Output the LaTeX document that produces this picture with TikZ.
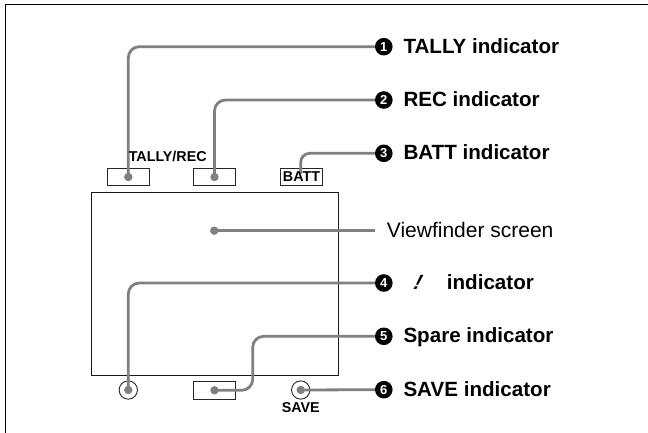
\documentclass[tikz,border=0pt]{standalone}
\usepackage{fontspec}
\setmainfont{Liberation Sans}
\definecolor{leadgray}{RGB}{128,128,128}
\begin{document}
\begin{tikzpicture}[x=1pt,y=-1pt,
  leader/.style={draw=leadgray, line width=2.8pt, rounded corners=11pt},
  dotmark/.style={circle, fill=leadgray, inner sep=0pt, minimum size=8.4pt},
  indbox/.style={draw=black!85, line width=0.9pt, minimum width=42pt, minimum height=17.4pt, inner sep=0pt},
  indcirc/.style={circle, draw=black!85, line width=0.9pt, minimum size=18.3pt, inner sep=0pt},
  numb/.style={circle, fill=black, text=white, inner sep=0pt, minimum size=17.6pt, font=\bfseries\fontsize{13}{13}\selectfont},
  lab/.style={anchor=base west, inner sep=0pt, font=\bfseries\fontsize{20.6}{22}\selectfont},
  small/.style={inner sep=0pt, font=\bfseries\fontsize{14.3}{15}\selectfont}
]
\useasboundingbox (0,0) rectangle (648,433);
% frame corner
\draw[line width=1.5pt] (5.7,433) -- (5.7,4.7) -- (648,4.7);
% screen
\node[draw=black!90, line width=1.1pt, minimum width=246.8pt, minimum height=182.7pt, inner sep=0pt] (screen) at (215,283.8) {};
% indicator boxes
\node[indbox] (tally) at (128.3,177) {};
\node[indbox] (rec) at (214.5,177) {};
\node[indbox] (batt) at (301.5,177) {};
\node[indbox, minimum height=18pt] (spare) at (214.5,390.3) {};
\node[indcirc] (c4) at (128.3,390) {};
\node[indcirc] (save) at (300.7,390) {};
% numbered bullets
\node[numb] (b1) at (383.8,46.7) {1};
\node[numb] (b2) at (383.8,100) {2};
\node[numb] (b3) at (383.8,153.3) {3};
\node[numb] (b4) at (383.8,283) {4};
\node[numb] (b5) at (383.8,336.3) {5};
\node[numb] (b6) at (383.8,389.7) {6};
% coordinates
\coordinate (battend) at (300.7,174);
\coordinate (vfdot) at (214.3,230.7);
\coordinate (vfend) at (375,230.7);
\coordinate (sparebend) at (252.7,390.3);
% leaders
\draw[leader] (tally.center) |- (b1.west);
\draw[leader] (rec.center) |- (b2.west);
\draw[leader, rounded corners=9pt] (battend) |- (b3.west);
\draw[leader] (vfdot) -- (vfend);
\draw[leader] (c4.center) |- (b4.west);
\draw[leader] (spare.center) -- (sparebend) |- (b5.west);
\draw[leader] (save.center) -- (b6.west);
% dots
\node[dotmark] at (tally.center) {};
\node[dotmark] at (rec.center) {};
\node[dotmark] at (vfdot) {};
\node[dotmark] at (c4.center) {};
\node[dotmark] at (spare.center) {};
\node[dotmark] at (save.center) {};
% small texts
\node[small] (tallyrec) at (167.7,156) {TALLY/REC};
\node[small] (batttext) at (batt.center) {BATT};
\node[small] (savetext) at (300.7,407.7) {SAVE};
% labels
\node[lab] (l1) at (403.3,53.3) {TALLY indicator};
\node[lab] (l2) at (403.3,106.6) {REC indicator};
\node[lab] (l3) at (403.3,159.9) {BATT indicator};
\node[lab, font=\fontsize{21}{22}\selectfont] (lvf) at (386.7,237) {Viewfinder screen};
\node[lab, xslant=0.5] (l4mark) at (411.5,289.3) {!};
\node[lab] (l4) at (446.7,289.3) {indicator};
\node[lab] (l5) at (403.3,342.6) {Spare indicator};
\node[lab] (l6) at (403.3,396) {SAVE indicator};
\end{tikzpicture}
\end{document}
